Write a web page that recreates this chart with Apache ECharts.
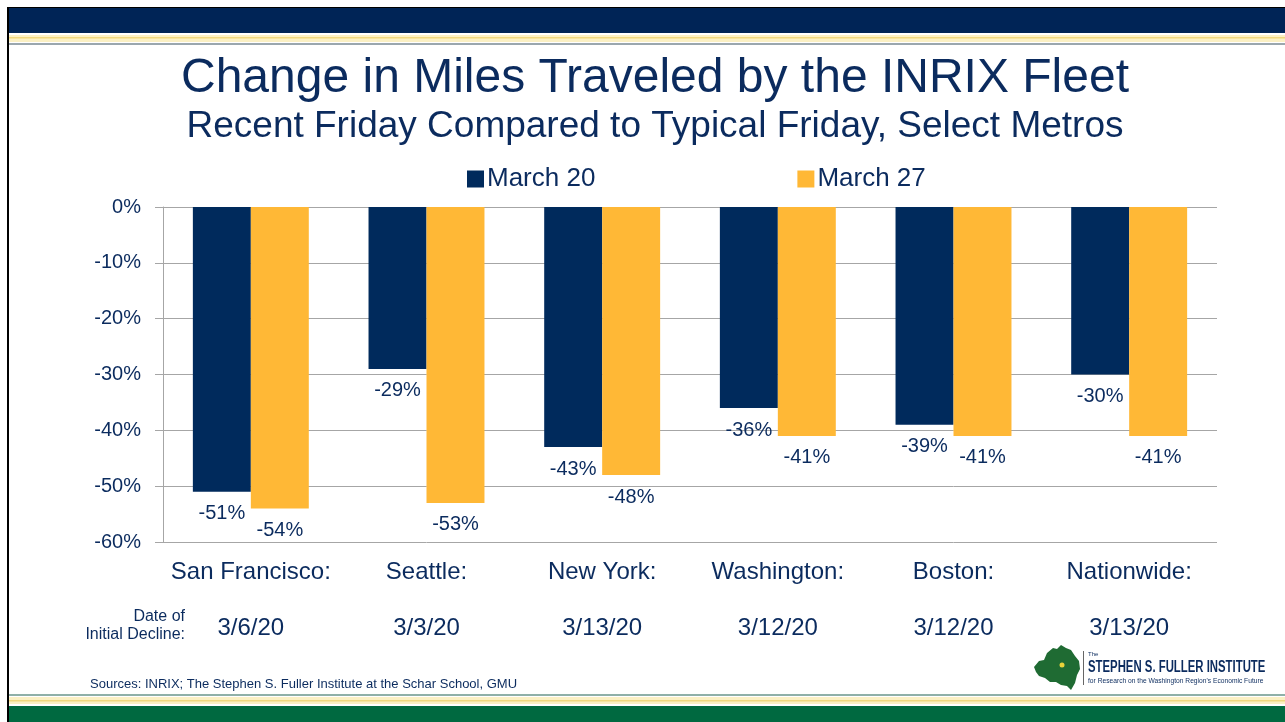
<!DOCTYPE html>
<html>
<head>
<meta charset="utf-8">
<script src="https://cdn.jsdelivr.net/npm/echarts@6/dist/echarts.min.js"></script>
<style>
html,body{margin:0;padding:0;background:#fff;}
#chart{width:1285px;height:722px;}
</style>
</head>
<body>
<div id="chart"></div>
<script>
var categories = ['San Francisco:', 'Seattle:', 'New York:', 'Washington:', 'Boston:', 'Nationwide:'];
var declineDates = ['3/6/20', '3/3/20', '3/13/20', '3/12/20', '3/12/20', '3/13/20'];
var march20 = [-51, -29, -43, -36, -39, -30];
var march27 = [-54, -53, -48, -41, -41, -41];
var yTicks = { min: -60, max: 0, interval: 10 };

var NAVY = '#002A5C';
var GOLD = '#FFB836';
var TXT = '#0B2B5E';
var FONT = 'Liberation Sans, Arial, sans-serif';

var chart = echarts.init(document.getElementById('chart'));

var labelStyle = {
  show: true, position: 'bottom', distance: 12,
  formatter: function (p) { return p.value + '%'; },
  color: TXT, fontSize: 20, fontFamily: FONT
};

chart.setOption({
  animation: false,
  backgroundColor: '#fff',
  textStyle: { fontFamily: FONT },
  legend: {
    left: 462, top: 161, itemWidth: 17, itemHeight: 17, itemGap: 202,
    icon: 'rect',
    textStyle: { color: TXT, fontSize: 26, fontFamily: FONT, padding: [0, 0, 0, -2] },
    data: ['March 20', 'March 27']
  },
  grid: { left: 163, right: 68, top: 207, bottom: 180 },
  xAxis: [
    { type: 'category', data: categories, position: 'bottom',
      axisLine: { show: false }, axisTick: { show: false },
      axisLabel: { color: TXT, fontSize: 24, fontFamily: FONT, margin: 18, interval: 0 } },
    { type: 'category', data: declineDates, position: 'bottom',
      axisLine: { show: false }, axisTick: { show: false },
      axisLabel: { color: TXT, fontSize: 24, fontFamily: FONT, margin: 74, interval: 0 } }
  ],
  yAxis: {
    type: 'value', min: yTicks.min, max: yTicks.max, interval: yTicks.interval,
    axisLine: { show: true, lineStyle: { color: '#A6A6A6', width: 1 } },
    axisTick: { show: true, length: 8, lineStyle: { color: '#A6A6A6' } },
    splitLine: { show: true, lineStyle: { color: '#A6A6A6', width: 1 } },
    axisLabel: { color: TXT, fontSize: 20, fontFamily: FONT, margin: 22,
      formatter: function (v) { return v + '%'; } }
  },
  series: [
    { name: 'March 20', type: 'bar', data: march20, xAxisIndex: 0, barWidth: '33%', barGap: '0%',
      itemStyle: { color: NAVY }, label: labelStyle },
    { name: 'March 27', type: 'bar', data: march27, xAxisIndex: 0, barWidth: '33%', barGap: '0%',
      itemStyle: { color: GOLD }, label: labelStyle }
  ],
  graphic: [
    // titles
    { type: 'text', x: 655, y: 79, style: { text: 'Change in Miles Traveled by the INRIX Fleet',
      align: 'center', verticalAlign: 'middle', fill: TXT, fontSize: 48, fontFamily: FONT } },
    { type: 'text', x: 655, y: 127, style: { text: 'Recent Friday Compared to Typical Friday, Select Metros',
      align: 'center', verticalAlign: 'middle', fill: TXT, fontSize: 37, fontFamily: FONT } },
    // top header band
    { type: 'rect', shape: { x: 7, y: 7, width: 1278, height: 1 }, style: { fill: '#000' } },
    { type: 'rect', shape: { x: 8, y: 8, width: 1277, height: 25 }, style: { fill: '#002456' } },
    { type: 'rect', shape: { x: 8, y: 35, width: 1277, height: 7 }, style: { fill: '#FBF0C4' } },
    { type: 'rect', shape: { x: 8, y: 37, width: 1277, height: 1.5 }, style: { fill: '#F0D77E' } },
    { type: 'rect', shape: { x: 8, y: 43, width: 1277, height: 2 }, style: { fill: '#9BA7AE' } },
    // bottom band
    { type: 'rect', shape: { x: 8, y: 694, width: 1277, height: 2 }, style: { fill: '#8FB0A8' } },
    { type: 'rect', shape: { x: 8, y: 697, width: 1277, height: 7 }, style: { fill: '#FBF0C4' } },
    { type: 'rect', shape: { x: 8, y: 700, width: 1277, height: 1.5 }, style: { fill: '#F0D77E' } },
    { type: 'rect', shape: { x: 8, y: 706, width: 1277, height: 16 }, style: { fill: '#006940' } },
    // left border
    { type: 'rect', shape: { x: 7, y: 7, width: 2, height: 715 }, style: { fill: '#000' } },
    // date row label
    { type: 'text', x: 185, y: 608, style: { text: 'Date of\nInitial Decline:', align: 'right',
      fill: TXT, fontSize: 16, lineHeight: 18, fontFamily: FONT } },
    // sources
    { type: 'text', x: 90, y: 678, style: { text: 'Sources: INRIX; The Stephen S. Fuller Institute at the Schar School, GMU',
      fill: TXT, fontSize: 13, fontFamily: 'Liberation Sans Narrow, Arial Narrow, ' + FONT } },
    // logo
    { type: 'polygon', shape: { points: [[1034,667],[1039,661],[1044,660],[1047,653],[1053,648],[1057,649],[1061,645],[1066,648],[1071,650],[1075,656],[1079,661],[1080,669],[1077,675],[1075,683],[1071,690],[1067,686],[1061,685],[1056,682],[1050,682],[1045,678],[1039,676],[1036,672]] },
      style: { fill: '#1F6B33' } },
    { type: 'circle', shape: { cx: 1062, cy: 665, r: 2.5 }, style: { fill: '#E8D33A' } },
    { type: 'rect', shape: { x: 1083, y: 651, width: 1, height: 34 }, style: { fill: '#666' } },
    { type: 'text', x: 1088, y: 651, style: { text: 'The', fill: TXT, fontSize: 6, fontFamily: FONT } },
    { type: 'group', x: 1088, y: 660, scaleX: 0.71, children: [
      { type: 'text', x: 0, y: 0, style: { text: 'STEPHEN S. FULLER INSTITUTE', fill: TXT, fontSize: 16, fontWeight: 'bold', fontFamily: FONT } }
    ] },
    { type: 'group', x: 1088, y: 677, scaleX: 0.89, children: [
      { type: 'text', x: 0, y: 0, style: { text: "for Research on the Washington Region's Economic Future", fill: TXT, fontSize: 7.5, fontFamily: FONT } }
    ] }
  ]
});
</script>
</body>
</html>
